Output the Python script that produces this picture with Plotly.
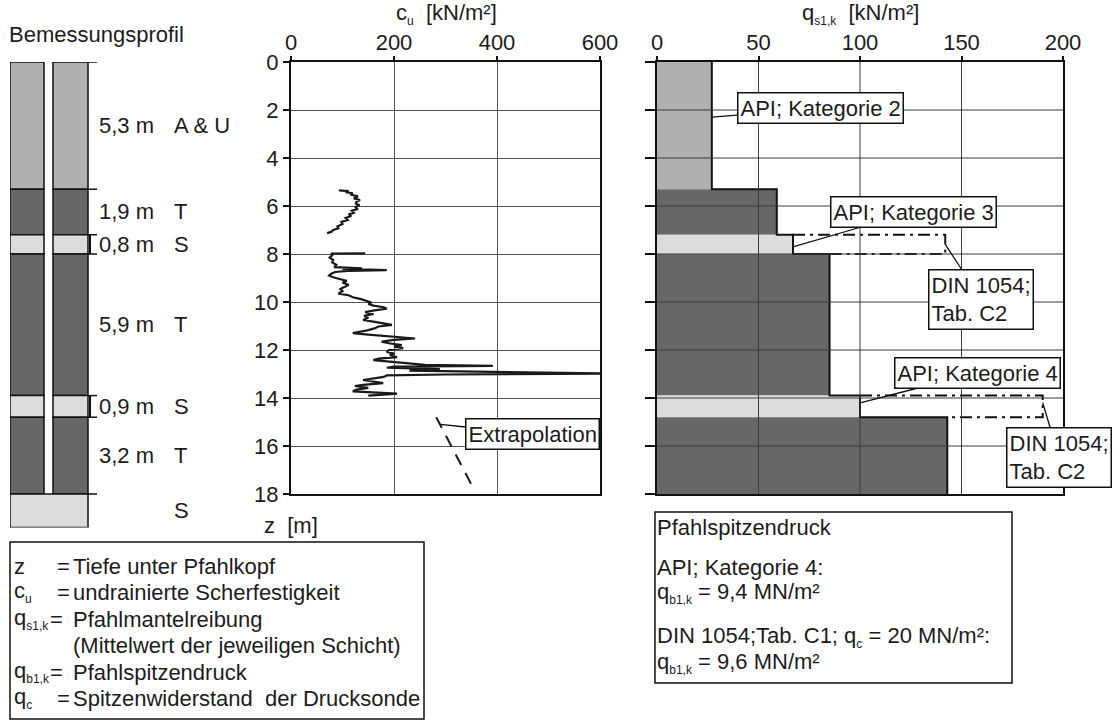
import plotly.graph_objects as go

W, H = 1118, 722
FONT = "Liberation Sans, Arial, sans-serif"
TXT = "#1c1c1c"
FS = 22

# ---- soil profile (thickness per layer, top to bottom) ----
layer_thickness = [5.3, 1.9, 0.8, 5.9, 0.9, 3.2, 1.4]
layer_soil = ["A & U", "T", "S", "T", "S", "T", "S"]
layer_labelled = [True, True, True, True, True, True, False]
pile_length = 18.0

# ---- skin friction q_s1,k per layer down to pile tip ----
qs_api = [27, 59, 67, 85, 100, 143]
din_layer_idx = [2, 4]
qs_din = [142, 190]

# ---- base resistance values ----
qb_api = 9.4
qb_din = 9.6
qc_din = 20

# ---- undrained shear strength c_u from the sounding ----
cu_z_upper = [5.35, 5.38, 5.42, 5.47, 5.52, 5.60, 5.68, 5.75, 5.82, 5.90, 5.97, 6.05,
              6.12, 6.20, 6.28, 6.35, 6.42, 6.50, 6.58, 6.66, 6.75, 6.85, 6.93, 7.00,
              7.08, 7.13]
cu_upper = [93, 112, 106, 120, 115, 130, 122, 134, 127, 126, 133, 124,
            130, 118, 122, 112, 117, 106, 110, 98, 100, 90, 92, 82,
            78, 70]
cu_z_lower = [7.97, 7.98, 8.05, 8.15, 8.25, 8.35, 8.45, 8.55, 8.60, 8.62, 8.67, 8.70,
              8.75, 8.82, 8.90, 8.97, 9.05, 9.12, 9.20, 9.28, 9.35, 9.45, 9.55, 9.65,
              9.72, 9.80, 9.88, 9.95, 10.02, 10.08, 10.15, 10.22, 10.28, 10.35, 10.42,
              10.50, 10.58, 10.66, 10.75, 10.82, 10.90, 10.95, 11.02, 11.10, 11.18,
              11.25, 11.30, 11.36, 11.42, 11.48, 11.52, 11.58, 11.65, 11.72, 11.80,
              11.86, 11.92, 12.00, 12.08, 12.15, 12.22, 12.30, 12.36, 12.42, 12.48,
              12.55, 12.62, 12.66, 12.69, 12.74, 12.80, 12.86, 12.92, 12.98, 13.02,
              13.06, 13.12, 13.20, 13.25, 13.32, 13.38, 13.45, 13.50, 13.58, 13.65,
              13.72, 13.78, 13.82, 13.86, 13.90]
cu_lower = [144, 78, 80, 75, 82, 80, 88, 84, 138, 100, 186, 110,
            86, 78, 74, 82, 96, 108, 100, 112, 106, 96, 100, 92,
            112, 120, 136, 145, 156, 150, 160, 180, 186, 162, 144,
            160, 142, 150, 140, 160, 180, 196, 170, 162, 148,
            128, 120, 150, 180, 210, 241, 200, 176, 190, 215,
            200, 218, 190, 186, 200, 192, 206, 170, 160, 190,
            225, 260, 392, 200, 186, 289, 230, 400, 613, 300,
            186, 180, 150, 140, 160, 179, 140, 124, 150, 128,
            120, 160, 206, 180, 150]
extrap_z = [14.8, 17.8]
extrap_cu = [282, 355]

soil_colors = {"A & U": "#b0b0b0", "T": "#676767", "S": "#dcdcdc"}

# ---- derived layer boundaries ----
layer_top, layer_bottom = [], []
z = 0.0
for t in layer_thickness:
    layer_top.append(round(z, 3))
    z += t
    layer_bottom.append(round(z, 3))
profile_depth = layer_bottom[-1]


def pxx(p):
    return p / W


def pxy(p):
    return 1 - p / H


def sub(s, size=12):
    return f"<sub><span style='font-size:{size}px'>{s}</span></sub>"


# pixel frame of the subplots
MID_X = (291, 600)
RIGHT_X = (657, 1063)
CHART_Y = (62, 494)
PROF_X = (10, 120)
PROF_Y = (62, 62 + (CHART_Y[1] - CHART_Y[0]) / 18.0 * profile_depth)

fig = go.Figure()

# ---------------- soil profile column (x3 / y3, 1 unit = 1 px) ----------------
STRIP_L = (0, 34)
STRIP_R = (43, 78)
for i, soil in enumerate(layer_soil):
    mid = (layer_top[i] + layer_bottom[i]) / 2
    th = layer_thickness[i]
    col = soil_colors[soil]
    if layer_bottom[i] <= pile_length + 1e-6:
        parts = [STRIP_L, STRIP_R]
    else:
        parts = [(STRIP_L[0], STRIP_R[1])]
    for a, b in parts:
        fig.add_trace(go.Bar(
            orientation="h", y=[mid], x=[b - a], base=[a], width=[th],
            marker=dict(color=col, line=dict(color="#111", width=1.5)),
            xaxis="x3", yaxis="y3", showlegend=False, hoverinfo="skip"))

# boundary ticks and brackets right of the column
boundaries = sorted(set(layer_top[:-1] + [pile_length]))
for b in boundaries:
    fig.add_shape(type="line", xref="x3", yref="y3", x0=STRIP_R[1], x1=87, y0=b, y1=b,
                  line=dict(color="#111", width=1.5))
for i in din_layer_idx:
    fig.add_shape(type="line", xref="x3", yref="y3", x0=80, x1=80,
                  y0=layer_top[i], y1=layer_bottom[i], line=dict(color="#111", width=2))

annotations = []
for i, soil in enumerate(layer_soil):
    mid = (layer_top[i] + layer_bottom[i]) / 2
    if layer_labelled[i]:
        annotations.append(dict(
            text=f"{layer_thickness[i]:.1f}".replace(".", ",") + " m",
            xref="paper", yref="y3", x=pxx(97), y=mid, xanchor="left", yanchor="middle",
            showarrow=False, font=dict(size=FS)))
    annotations.append(dict(
        text=soil, xref="paper", yref="y3", x=pxx(172), y=mid, xanchor="left",
        yanchor="middle", showarrow=False, font=dict(size=FS)))

# ---------------- c_u chart (x / y) ----------------
fig.add_trace(go.Scatter(
    x=cu_upper + [None] + cu_lower, y=cu_z_upper + [None] + cu_z_lower,
    mode="lines", line=dict(color="#1a1a1a", width=2.2),
    xaxis="x", yaxis="y", showlegend=False, hoverinfo="skip", cliponaxis=False))
fig.add_trace(go.Scatter(
    x=extrap_cu, y=extrap_z, mode="lines",
    line=dict(color="#1a1a1a", width=2, dash="12px,9px"),
    xaxis="x", yaxis="y", showlegend=False, hoverinfo="skip"))

# ---------------- q_s1,k chart (x2 / y2) ----------------
for i, q in enumerate(qs_api):
    mid = (layer_top[i] + layer_bottom[i]) / 2
    fig.add_trace(go.Bar(
        orientation="h", y=[mid], x=[q], base=[0], width=[layer_thickness[i]],
        marker=dict(color=soil_colors[layer_soil[i]], line=dict(width=0)),
        xaxis="x2", yaxis="y2", showlegend=False, hoverinfo="skip"))

# step outline of the API values
step_x, step_y = [], []
for i, q in enumerate(qs_api):
    step_x += [q, q]
    step_y += [layer_top[i], layer_bottom[i]]
fig.add_trace(go.Scatter(
    x=step_x, y=step_y, mode="lines", line=dict(color="#111", width=2),
    xaxis="x2", yaxis="y2", showlegend=False, hoverinfo="skip"))

# DIN 1054 values in the sand layers
for i, qd in zip(din_layer_idx, qs_din):
    fig.add_trace(go.Scatter(
        x=[qs_api[i], qd, qd, qs_api[i + 1]],
        y=[layer_top[i], layer_top[i], layer_bottom[i], layer_bottom[i]],
        mode="lines", line=dict(color="#111", width=2, dash="12px,5px,3px,5px"),
        xaxis="x2", yaxis="y2", showlegend=False, hoverinfo="skip"))

# grid of the right chart drawn over the bars
qs_ticks = [0, 50, 100, 150, 200]
z_ticks = list(range(0, 19, 2))
for gx in qs_ticks[1:-1]:
    fig.add_shape(type="line", xref="x2", yref="y2", x0=gx, x1=gx, y0=0, y1=18,
                  line=dict(color="#3c3c3c", width=1), layer="above")
for gy in z_ticks[1:-1]:
    fig.add_shape(type="line", xref="x2", yref="y2", x0=0, x1=200, y0=gy, y1=gy,
                  line=dict(color="#3c3c3c", width=1), layer="above")


def rx(q):
    return RIGHT_X[0] + q * (RIGHT_X[1] - RIGHT_X[0]) / 200.0


def mx(c):
    return MID_X[0] + c * (MID_X[1] - MID_X[0]) / 600.0


def zy(zz):
    return CHART_Y[0] + zz * (CHART_Y[1] - CHART_Y[0]) / 18.0


box_style = dict(showarrow=True, arrowhead=0, arrowwidth=1.3, arrowcolor="#111",
                 bordercolor="#111", borderwidth=1.5, borderpad=2, bgcolor="white",
                 font=dict(size=FS), align="left")

callouts = [
    ("API; Kategorie 2", qs_api[0], 2.3, 820, 108),
    ("API; Kategorie 3", qs_api[2], 7.7, 913, 212),
    ("DIN 1054;<br>Tab. C2", qs_din[0], 7.6, 981, 299),
    ("API; Kategorie 4", qs_api[4], 14.2, 977, 373),
    ("DIN 1054;<br>Tab. C2", qs_din[1], 14.2, 1059, 457),
]
for text, q, zz, cx, cy in callouts:
    annotations.append(dict(text=text, xref="x2", yref="y2", x=q, y=zz,
                            ax=cx - rx(q), ay=cy - zy(zz), **box_style))

annotations.append(dict(text="Extrapolation", xref="x", yref="y", x=290, y=15.1,
                        ax=532 - mx(290), ay=434 - zy(15.1), **box_style))

# ---------------- titles and axis labels ----------------
nb = "\u00a0"
annotations += [
    dict(text="Bemessungsprofil", xref="paper", yref="paper", x=pxx(7), y=pxy(35),
         xanchor="left", yanchor="middle", showarrow=False, font=dict(size=FS)),
    dict(text=f"c{sub('u')}{nb}{nb}[kN/m²]", xref="paper", yref="paper",
         x=pxx(446), y=pxy(14), xanchor="center", yanchor="middle", showarrow=False,
         font=dict(size=FS)),
    dict(text=f"q{sub('s1,k')}{nb}{nb}[kN/m²]", xref="paper", yref="paper",
         x=pxx(860), y=pxy(14), xanchor="center", yanchor="middle", showarrow=False,
         font=dict(size=FS)),
    dict(text=f"z{nb}{nb}[m]", xref="paper", yref="paper", x=pxx(262), y=pxy(525),
         xanchor="left", yanchor="middle", showarrow=False, font=dict(size=FS)),
]

# ---------------- explanation box (bottom left) ----------------
fig.add_shape(type="rect", xref="paper", yref="paper", x0=pxx(10), x1=pxx(424),
              y0=pxy(719), y1=pxy(542), line=dict(color="#111", width=1.5))
legend_rows = [
    ("z", 55, "Tiefe unter Pfahlkopf"),
    ("c" + sub("u"), 55, "undrainierte Scherfestigkeit"),
    ("q" + sub("s1,k"), 48, "Pfahlmantelreibung"),
    ("", None, "(Mittelwert der jeweiligen Schicht)"),
    ("q" + sub("b1,k"), 48, "Pfahlspitzendruck"),
    ("q" + sub("c"), 55, f"Spitzenwiderstand{nb} der Drucksonde"),
]
row_y = [566, 592, 619, 645, 672, 698]
for (sym, eqx, txt), yy in zip(legend_rows, row_y):
    if sym:
        annotations.append(dict(text=sym, xref="paper", yref="paper", x=pxx(12), y=pxy(yy),
                                xanchor="left", yanchor="middle", showarrow=False,
                                font=dict(size=FS)))
    if eqx is not None:
        annotations.append(dict(text="=", xref="paper", yref="paper", x=pxx(eqx), y=pxy(yy),
                                xanchor="left", yanchor="middle", showarrow=False,
                                font=dict(size=FS)))
    annotations.append(dict(text=txt, xref="paper", yref="paper", x=pxx(71), y=pxy(yy),
                            xanchor="left", yanchor="middle", showarrow=False,
                            font=dict(size=FS)))

# ---------------- base resistance box (bottom right) ----------------
fig.add_shape(type="rect", xref="paper", yref="paper", x0=pxx(655), x1=pxx(1012),
              y0=pxy(683), y1=pxy(512), line=dict(color="#111", width=1.5))


def de(v):
    return f"{v:g}".replace(".", ",")


tip_rows = [
    ("Pfahlspitzendruck", 527),
    ("API; Kategorie 4:", 567),
    (f"q{sub('b1,k')} = {de(qb_api)} MN/m²", 593),
    (f"DIN 1054;Tab. C1; q{sub('c')} = {de(qc_din)} MN/m²:", 637),
    (f"q{sub('b1,k')} = {de(qb_din)} MN/m²", 663),
]
for txt, yy in tip_rows:
    annotations.append(dict(text=txt, xref="paper", yref="paper", x=pxx(655), y=pxy(yy),
                            xanchor="left", yanchor="middle", showarrow=False,
                            font=dict(size=FS)))

axis_common = dict(showline=True, linecolor="#111", linewidth=2, mirror=True,
                   zeroline=False, tickfont=dict(size=FS, color=TXT),
                   tickcolor="#111", tickwidth=1.5, automargin=False)

fig.update_layout(
    template="none",
    width=W, height=H, margin=dict(l=0, r=0, t=0, b=0, pad=0, autoexpand=False),
    paper_bgcolor="white", plot_bgcolor="white",
    font=dict(family=FONT, color=TXT, size=FS),
    barmode="overlay", showlegend=False,
    xaxis=dict(domain=[pxx(MID_X[0]), pxx(MID_X[1])], range=[0, 600], side="top",
               anchor="y", tickvals=[0, 200, 400, 600], ticks="outside", ticklen=4,
               ticklabelstandoff=-3,
               showgrid=True, gridcolor="#555", gridwidth=1, **axis_common),
    yaxis=dict(domain=[pxy(CHART_Y[1]), pxy(CHART_Y[0])], range=[18, 0], anchor="x",
               tickvals=z_ticks, ticks="outside", ticklen=6, showgrid=True,
               gridcolor="#555", gridwidth=1, **axis_common),
    xaxis2=dict(domain=[pxx(RIGHT_X[0]), pxx(RIGHT_X[1])], range=[0, 200], side="top",
                anchor="y2", tickvals=qs_ticks, ticks="outside", ticklen=4,
                ticklabelstandoff=-3,
                showgrid=False, **axis_common),
    yaxis2=dict(domain=[pxy(CHART_Y[1]), pxy(CHART_Y[0])], range=[18, 0], anchor="x2",
                tickvals=z_ticks, ticks="outside", ticklen=10, showticklabels=False,
                showgrid=False, **axis_common),
    xaxis3=dict(domain=[pxx(PROF_X[0]), pxx(PROF_X[1])], range=[0, 110], anchor="y3",
                visible=False, fixedrange=True, automargin=False),
    yaxis3=dict(domain=[pxy(PROF_Y[1]), pxy(PROF_Y[0])], range=[profile_depth, 0],
                anchor="x3", visible=False, fixedrange=True, automargin=False),
    annotations=annotations,
)

fig.write_html("out.html",
               post_script="document.body.style.margin='0';"
                           "document.body.style.overflow='hidden';")
